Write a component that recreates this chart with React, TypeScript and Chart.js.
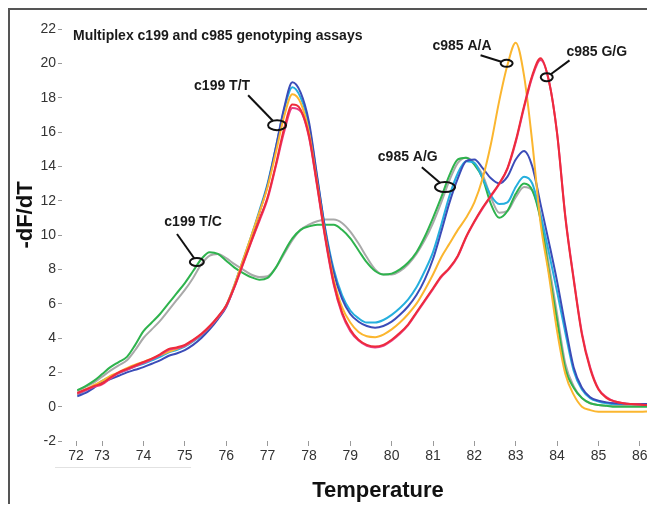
import React, { useEffect, useRef } from "react";
import { Chart, registerables } from "chart.js";
Chart.register(...registerables);

const temperature = [
  72.4, 72.6, 72.8, 73.0, 73.2, 73.4, 73.6, 73.8, 74.0, 74.2,
  74.4, 74.6, 74.8, 75.0, 75.2, 75.4, 75.6, 75.8, 76.0, 76.2,
  76.4, 76.6, 76.8, 77.0, 77.2, 77.4, 77.6, 77.8, 78.0, 78.2,
  78.4, 78.6, 78.8, 79.0, 79.2, 79.4, 79.6, 79.8, 80.0, 80.2,
  80.4, 80.6, 80.8, 81.0, 81.2, 81.4, 81.6, 81.8, 82.0, 82.2,
  82.4, 82.6, 82.8, 83.0, 83.2, 83.4, 83.6, 83.8, 84.0, 84.2,
  84.4, 84.6, 84.8, 85.0, 85.2, 85.4, 85.6, 85.8, 86.0, 86.2, 86.4,
];

const blueValues = [
  0.6, 0.8, 1.1, 1.4, 1.6, 1.8, 2.0, 2.15, 2.3, 2.5,
  2.7, 2.95, 3.1, 3.3, 3.6, 4.0, 4.5, 5.1, 5.8, 7.0,
  8.4, 9.8, 11.3, 12.9, 15.1, 17.4, 18.9, 18.3, 16.6, 13.4,
  10.2, 7.8, 6.3, 5.4, 4.95, 4.7, 4.6, 4.7, 4.95, 5.35,
  5.85, 6.5, 7.4, 8.6, 10.2, 11.9, 13.3, 14.3, 14.4, 13.9,
  13.3, 13.0, 13.4, 14.4, 14.9, 14.0, 11.8, 9.6, 7.3, 4.7,
  2.3, 1.1, 0.55, 0.35, 0.25, 0.2, 0.18, 0.15, 0.15, 0.15, 0.15,
];
const cyanValues = [
  0.7, 0.95, 1.2, 1.5, 1.75, 1.95, 2.15, 2.35, 2.5, 2.7,
  2.9, 3.15, 3.3, 3.5, 3.8, 4.15, 4.6, 5.2, 5.9, 7.1,
  8.5, 9.9, 11.4, 13.0, 15.1, 17.3, 18.6, 18.0, 16.4, 13.3,
  10.3, 8.0, 6.5, 5.6, 5.15, 4.9, 4.9, 5.05, 5.35, 5.75,
  6.25, 6.95, 7.9, 9.0, 10.6, 12.3, 13.6, 14.3, 14.2, 13.3,
  12.3, 11.8, 11.9, 12.8, 13.4, 13.0, 11.2, 9.0, 6.7, 4.3,
  2.1, 1.0, 0.5, 0.3, 0.2, 0.15, 0.15, 0.15, 0.15, 0.15, 0.15,
];
const orangeValues = [
  0.75, 1.0, 1.25, 1.5, 1.8, 2.0, 2.25, 2.45, 2.6, 2.8,
  3.0, 3.2, 3.35, 3.55, 3.85, 4.2, 4.65, 5.2, 5.9, 7.1,
  8.5, 9.9, 11.3, 12.8, 14.8, 16.9, 18.2, 17.7, 16.0, 13.0,
  9.9, 7.4, 5.8, 4.9, 4.35, 4.1, 4.05, 4.2, 4.5, 4.9,
  5.4, 6.0, 6.8, 7.7, 8.7, 9.5, 10.3, 11.0, 11.9, 13.3,
  15.3, 17.8, 19.9, 21.2, 19.3, 15.4, 10.7, 7.7, 4.4, 1.9,
  0.7, 0.0, -0.2, -0.3, -0.3, -0.3, -0.3, -0.3, -0.3, -0.28, -0.25,
];
const redValues = [
  0.8, 1.0, 1.2, 1.35, 1.7, 2.0, 2.2, 2.4, 2.6, 2.8,
  3.05, 3.35, 3.45, 3.6, 3.9, 4.25, 4.7, 5.25, 5.9, 7.0,
  8.3, 9.6, 10.9, 12.2, 14.1, 16.2, 17.6, 17.3, 15.8, 12.9,
  9.8, 7.2, 5.5, 4.5, 3.9, 3.6, 3.5, 3.6, 3.9, 4.3,
  4.8, 5.5, 6.2, 6.9, 7.6, 8.1, 8.8, 9.9, 10.8, 11.6,
  12.3, 13.0, 13.9, 15.5, 17.5, 19.3, 20.3, 19.0, 15.9, 11.0,
  7.4, 4.2, 2.2, 1.0, 0.5, 0.3, 0.2, 0.15, 0.12, 0.1, 0.1,
];
const pinkValues = [
  0.75, 0.95, 1.15, 1.3, 1.65, 1.95, 2.15, 2.35, 2.55, 2.75,
  3.0, 3.3, 3.4, 3.55, 3.85, 4.2, 4.65, 5.2, 5.85, 6.95,
  8.25, 9.55, 10.8, 12.1, 14.0, 16.0, 17.4, 17.2, 15.7, 12.8,
  9.7, 7.1, 5.4, 4.4, 3.85, 3.55, 3.45, 3.55, 3.85, 4.25,
  4.75, 5.45, 6.15, 6.85, 7.55, 8.05, 8.75, 9.85, 10.75, 11.55,
  12.25, 12.95, 13.85, 15.4, 17.4, 19.2, 20.2, 19.0, 15.95, 11.1,
  7.5, 4.3, 2.3, 1.05, 0.55, 0.3, 0.2, 0.15, 0.12, 0.1, 0.1,
];
const greenValues = [
  0.95, 1.2, 1.5, 1.9, 2.3, 2.6, 2.9, 3.6, 4.4, 4.9,
  5.4, 6.0, 6.6, 7.2, 7.9, 8.6, 9.0, 8.9, 8.5, 8.1,
  7.8, 7.55, 7.4, 7.5, 8.1, 9.0, 9.8, 10.3, 10.5, 10.6,
  10.6, 10.6, 10.3, 9.8, 9.1, 8.4, 7.9, 7.7, 7.75, 8.0,
  8.4, 9.0, 9.9, 11.0, 12.2, 13.5, 14.4, 14.5, 14.1, 13.3,
  11.8, 11.0, 11.4, 12.4, 13.0, 12.6, 10.9, 7.9, 5.0, 2.2,
  1.1, 0.5, 0.2, 0.1, 0.05, 0.0, 0.0, 0.0, 0.0, 0.0, 0.0,
];
const greyValues = [
  0.9, 1.15, 1.4, 1.75, 2.1, 2.4, 2.7, 3.3, 4.0, 4.5,
  5.0, 5.6, 6.2, 6.8, 7.5, 8.3, 8.8, 8.9, 8.65, 8.3,
  8.0, 7.7, 7.55, 7.6, 8.1, 8.9, 9.7, 10.3, 10.6, 10.8,
  10.9, 10.9, 10.7, 10.2, 9.5, 8.7, 8.0, 7.7, 7.7, 7.9,
  8.3, 8.9, 9.7, 10.7, 11.9, 13.2, 14.2, 14.5, 14.2, 13.5,
  12.2, 11.3, 11.4, 12.2, 12.8, 12.6, 11.0, 8.3, 5.4, 2.5,
  1.2, 0.5, 0.2, 0.1, 0.05, 0.05, 0.05, 0.05, 0.05, 0.05, 0.05,
];

const xTickPositions = [72.37, 73, 74, 75, 76, 77, 78, 79, 80, 81, 82, 83, 84, 85, 86];
const xTickLabels = ["72", "73", "74", "75", "76", "77", "78", "79", "80", "81", "82", "83", "84", "85", "86"];

const chartTitle = "Multiplex c199 and c985 genotyping assays";
const yAxisTitle = "-dF/dT";
const xAxisTitle = "Temperature";
const annotationLabels = ["c199 T/T", "c199 T/C", "c985 A/G", "c985 A/A", "c985 G/G"];
const labelT = [75.9, 75.2, 80.39, 81.7, 84.96];
const labelV = [18.66, 10.76, 14.53, 20.99, 20.64];
const leaderT = [76.53, 74.81, 80.73, 82.15, 84.3];
const leaderV = [18.14, 10.06, 13.95, 20.47, 20.17];
const ringT = [77.23, 75.29, 81.29, 82.78, 83.75];
const ringV = [16.4, 8.43, 12.79, 20.0, 19.19];

const FONT = "'Liberation Sans', Arial, sans-serif";

export default function App() {
  const ref = useRef<HTMLCanvasElement>(null);
  useEffect(() => {
    const ringRx = [9, 7, 10, 6, 6];
    const ringRy = [5, 4, 5, 3.5, 4];
    const annot = {
      id: "annot",
      afterDatasetsDraw(chart: any) {
        const { ctx, chartArea, scales } = chart;
        const xs = scales.x;
        const ys = scales.y;
        ctx.save();
        ctx.fillStyle = "#1a1a1a";
        ctx.font = `bold 14px ${FONT}`;
        ctx.textBaseline = "middle";
        ctx.textAlign = "left";
        ctx.fillText(chartTitle, chartArea.left + 11, chartArea.top + 7);
        ctx.textAlign = "center";
        ctx.strokeStyle = "#111";
        ctx.lineWidth = 2;
        for (let i = 0; i < annotationLabels.length; i++) {
          const tx = xs.getPixelForValue(labelT[i]);
          const ty = ys.getPixelForValue(labelV[i]);
          ctx.fillText(annotationLabels[i], tx, ty);
          const sx = xs.getPixelForValue(leaderT[i]);
          const sy = ys.getPixelForValue(leaderV[i]);
          const cx = xs.getPixelForValue(ringT[i]);
          const cy = ys.getPixelForValue(ringV[i]);
          const dx = sx - cx;
          const dy = sy - cy;
          const t = 1 / Math.sqrt((dx / ringRx[i]) ** 2 + (dy / ringRy[i]) ** 2);
          ctx.beginPath();
          ctx.moveTo(sx, sy);
          ctx.lineTo(cx + dx * t, cy + dy * t);
          ctx.stroke();
          ctx.beginPath();
          ctx.ellipse(cx, cy, ringRx[i], ringRy[i], 0, 0, Math.PI * 2);
          ctx.stroke();
        }
        // y axis title
        ctx.save();
        ctx.translate(chartArea.left - 36, chartArea.top + 186);
        ctx.rotate(-Math.PI / 2);
        ctx.font = `bold 22px ${FONT}`;
        ctx.fillStyle = "#111";
        ctx.textAlign = "center";
        ctx.textBaseline = "middle";
        ctx.fillText(yAxisTitle, 0, 0);
        ctx.restore();
        ctx.strokeStyle = "#e2e2e2";
        ctx.lineWidth = 1;
        ctx.beginPath();
        ctx.moveTo(chartArea.left - 7, chartArea.bottom + 26.5);
        ctx.lineTo(xs.getPixelForValue(75.15), chartArea.bottom + 26.5);
        ctx.stroke();
        ctx.restore();
      },
    };

    const mk = (label: string, data: number[], color: string, order: number) => ({
      label,
      data: data.map((v, i) => ({ x: temperature[i], y: v })),
      borderColor: color,
      backgroundColor: color,
      borderWidth: 2,
      pointRadius: 0,
      cubicInterpolationMode: "monotone" as const,
      order,
    });

    const chart = new Chart(ref.current!, {
      type: "line",
      data: {
        datasets: [
          mk("grey", greyValues, "#a9a9a9", 8),
          mk("green", greenValues, "#2eb34d", 7),
          mk("cyan", cyanValues, "#25afde", 6),
          mk("blue", blueValues, "#3b4cb8", 5),
          mk("orange", orangeValues, "#fbb62f", 4),
          mk("pink", pinkValues, "#e83d86", 3),
          mk("red", redValues, "#ee2b3b", 2),
        ],
      },
      options: {
        responsive: false,
        animation: false,
        events: [],
        layout: { padding: { top: 19, right: 16, left: 0, bottom: 0 } },
        plugins: { legend: { display: false }, tooltip: { enabled: false }, title: { display: false } },
        scales: {
          x: {
            type: "linear",
            min: 72.03,
            max: 87.31,
            afterBuildTicks: (scale: any) => {
              scale.ticks = xTickPositions.map((value) => ({ value }));
            },
            afterFit: (scale: any) => {
              scale.height = 69;
            },
            grid: { display: true, drawOnChartArea: false, drawTicks: true, tickLength: 5, color: "#9a9a9a" },
            border: { display: false },
            ticks: {
              autoSkip: false,
              maxRotation: 0,
              padding: 2,
              color: "#333",
              font: { family: FONT, size: 14 },
              callback: (_v: any, index: number) => xTickLabels[index],
            },
            title: {
              display: true,
              text: xAxisTitle,
              color: "#111",
              font: { family: FONT, size: 22, weight: "bold" },
              padding: { top: 0, bottom: 6 },
            },
          },
          y: {
            type: "linear",
            min: -2,
            max: 22,
            afterFit: (scale: any) => {
              scale.width = 52;
            },
            grid: { display: true, drawOnChartArea: false, drawTicks: true, tickLength: 4, color: "#9a9a9a" },
            border: { display: false },
            ticks: {
              stepSize: 2,
              padding: 2,
              color: "#333",
              font: { family: FONT, size: 14 },
            },
          },
        },
      },
      plugins: [annot],
    });
    return () => chart.destroy();
  }, []);

  return (
    <div
      style={{
        width: 647,
        height: 496,
        overflow: "hidden",
        borderTop: "2px solid #555",
        borderLeft: "2px solid #555",
        boxSizing: "border-box",
        background: "#fff",
      }}
    >
      <canvas ref={ref} width={700} height={500} style={{ display: "block" }} />
    </div>
  );
}
